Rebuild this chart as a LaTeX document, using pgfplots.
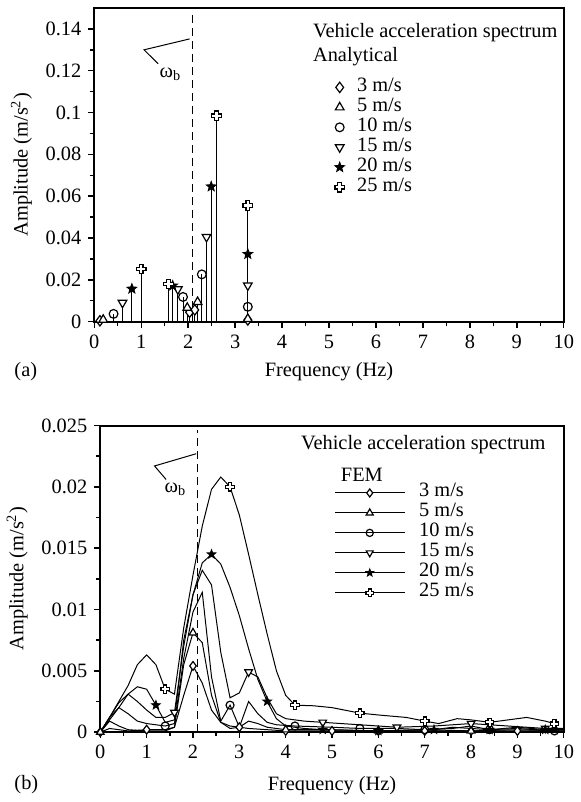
\documentclass[border=0pt]{standalone}
\usepackage{fontspec}
\setmainfont{Liberation Serif}
\usepackage{pgfplots}
\pgfplotsset{compat=1.18}
\usetikzlibrary{plotmarks}

\pgfdeclareplotmark{oplus}{%
 \pgfpathmoveto{\pgfqpoint{-0.38\pgfplotmarksize}{\pgfplotmarksize}}%
 \pgfpathlineto{\pgfqpoint{0.38\pgfplotmarksize}{\pgfplotmarksize}}%
 \pgfpathlineto{\pgfqpoint{0.38\pgfplotmarksize}{0.38\pgfplotmarksize}}%
 \pgfpathlineto{\pgfqpoint{\pgfplotmarksize}{0.38\pgfplotmarksize}}%
 \pgfpathlineto{\pgfqpoint{\pgfplotmarksize}{-0.38\pgfplotmarksize}}%
 \pgfpathlineto{\pgfqpoint{0.38\pgfplotmarksize}{-0.38\pgfplotmarksize}}%
 \pgfpathlineto{\pgfqpoint{0.38\pgfplotmarksize}{-\pgfplotmarksize}}%
 \pgfpathlineto{\pgfqpoint{-0.38\pgfplotmarksize}{-\pgfplotmarksize}}%
 \pgfpathlineto{\pgfqpoint{-0.38\pgfplotmarksize}{-0.38\pgfplotmarksize}}%
 \pgfpathlineto{\pgfqpoint{-\pgfplotmarksize}{-0.38\pgfplotmarksize}}%
 \pgfpathlineto{\pgfqpoint{-\pgfplotmarksize}{0.38\pgfplotmarksize}}%
 \pgfpathlineto{\pgfqpoint{-0.38\pgfplotmarksize}{0.38\pgfplotmarksize}}%
 \pgfpathclose
 \pgfusepathqfillstroke}

\pgfdeclareplotmark{fstar}{%
 \pgfpathmoveto{\pgfpointpolar{90}{\pgfplotmarksize}}%
 \pgfpathlineto{\pgfpointpolar{126}{0.42\pgfplotmarksize}}%
 \pgfpathlineto{\pgfpointpolar{162}{\pgfplotmarksize}}%
 \pgfpathlineto{\pgfpointpolar{198}{0.42\pgfplotmarksize}}%
 \pgfpathlineto{\pgfpointpolar{234}{\pgfplotmarksize}}%
 \pgfpathlineto{\pgfpointpolar{270}{0.42\pgfplotmarksize}}%
 \pgfpathlineto{\pgfpointpolar{306}{\pgfplotmarksize}}%
 \pgfpathlineto{\pgfpointpolar{342}{0.42\pgfplotmarksize}}%
 \pgfpathlineto{\pgfpointpolar{18}{\pgfplotmarksize}}%
 \pgfpathlineto{\pgfpointpolar{54}{0.42\pgfplotmarksize}}%
 \pgfpathclose
 \pgfusepathqfillstroke}

\newcommand{\fs}{\fontsize{10.2}{12.3}\selectfont}

\pgfplotsset{
 myax/.style={
  scale only axis, clip=false,
  axis line style={line width=1pt},
  every tick/.style={black, line width=0.7pt},
  tick align=outside, xtick pos=bottom, ytick pos=left,
  major tick length=3pt, minor tick length=2pt,
  xmin=0, xmax=10, xtick={0,1,...,10}, minor x tick num=1,
  scaled y ticks=false,
  /pgf/number format/assume math mode=true,
  tick label style={font=\fs},
  label style={font=\fs},
  xlabel={Frequency (Hz)},
  ylabel={Amplitude (m/s\textsuperscript{2})},
 },
 dia/.style={black, mark=diamond*, mark size=2.6pt, mark options={fill=white, solid, line width=0.6pt}},
 tri/.style={black, mark=triangle*, mark size=2.5pt, mark options={fill=white, solid, line width=0.6pt}},
 cir/.style={black, mark=o, mark size=2.2pt, mark options={fill=white, solid, line width=0.6pt}},
 dtr/.style={black, mark=triangle*, mark size=2.5pt, mark options={fill=white, solid, line width=0.6pt, rotate=180}},
 sta/.style={black, mark=fstar, mark size=2.6pt, mark options={fill=black, solid, line width=0.4pt}},
 crs/.style={black, mark=oplus, mark size=2.4pt, mark options={fill=white, solid, line width=0.6pt}},
}

\begin{document}
\begin{tikzpicture}[font=\fs]
\path (0pt,0pt) rectangle (287.5pt,-401pt);
\node[anchor=west, font=\fs] at (3pt,-186pt) {(a)};
\node[anchor=west, font=\fs] at (3pt,-393pt) {(b)};

% ---------------- (a) analytical ----------------
\begin{axis}[myax,
  at={(46.5pt,-161pt)}, anchor=south west,
  width=235pt, height=157pt,
  ymin=0, ymax=0.15,
  ytick={0,0.02,0.04,0.06,0.08,0.1,0.12,0.14},
  yticklabels={0,0.02,0.04,0.06,0.08,0.1,0.12,0.14},
  minor ytick={0.01,0.03,0.05,0.07,0.09,0.11,0.13},
  xlabel style={at={(axis description cs:0.5,0)}, anchor=center, yshift=-25pt},
  legend image code/.code={\path (0pt,0pt) (8pt,0pt); \draw[#1] plot coordinates {(4pt,0pt)};},
  legend style={draw=none, fill=none, at={(rel axis cs:0.504,0.780)}, anchor=north west,
    inner sep=0pt, row sep=0pt, column sep=4.5pt, font=\fs,
    nodes={inner sep=0pt, text height=7pt, text depth=3pt}},
  legend cell align=left,
]
\addplot[dia, ycomb, line width=0.5pt, forget plot] coordinates {(0.12,0.0004) (2.03,0.0045) (2.14,0.0056) (3.27,0.0008)};
\addplot[tri, ycomb, line width=0.5pt, forget plot] coordinates {(0.19,0.0009) (1.98,0.0066) (2.20,0.0094) (3.27,0.0013)};
\addplot[cir, ycomb, line width=0.5pt, forget plot] coordinates {(0.41,0.0037) (1.89,0.0118) (2.29,0.0226) (3.27,0.0071)};
\addplot[dtr, ycomb, line width=0.5pt, forget plot] coordinates {(0.60,0.0090) (1.78,0.0155) (2.39,0.0405) (3.27,0.0173)};
\addplot[sta, ycomb, line width=0.5pt, forget plot] coordinates {(0.80,0.0157) (1.67,0.0172) (2.49,0.0646) (3.27,0.0323)};
\addplot[crs, ycomb, line width=0.5pt, forget plot] coordinates {(1.00,0.0252) (1.58,0.0180) (2.60,0.0984) (3.27,0.0556)};
\addlegendimage{dia}\addlegendentry{3 m/s}
\addlegendimage{tri}\addlegendentry{5 m/s}
\addlegendimage{cir}\addlegendentry{10 m/s}
\addlegendimage{dtr}\addlegendentry{15 m/s}
\addlegendimage{sta}\addlegendentry{20 m/s}
\addlegendimage{crs}\addlegendentry{25 m/s}
\draw[black, line width=0.5pt, dash pattern=on 4pt off 2.5pt] (axis cs:2.1,0) -- (axis cs:2.1,0.147);
\draw[black, line width=0.5pt] (axis cs:2.03,0.1352) -- (axis cs:1.06,0.130) -- (axis cs:1.36,0.1233);
\node[font=\fs] at (axis cs:1.62,0.1185) {ω\textsubscript{b}};
\node[anchor=west, font=\fs] at (rel axis cs:0.451,0.920) {Vehicle acceleration spectrum};
\node[anchor=west, font=\fs] at (rel axis cs:0.451,0.844) {Analytical};
\end{axis}

% ---------------- (b) FEM ----------------
\begin{axis}[myax,
  at={(49.5pt,-366.5pt)}, anchor=south west,
  width=232pt, height=153.5pt,
  ymin=0, ymax=0.025,
  ytick={0,0.005,0.01,0.015,0.02,0.025},
  yticklabels={0,0.005,0.01,0.015,0.02,0.025},
  minor ytick={0.0025,0.0075,0.0125,0.0175,0.0225},
  xlabel style={at={(axis description cs:0.5,0)}, anchor=center, yshift=-27pt},
  legend image code/.code={\draw[#1, mark=none] (0pt,0pt) -- (35pt,0pt); \draw[#1] plot coordinates {(17.5pt,0pt)};},
  legend style={draw=none, fill=none, at={(rel axis cs:0.504,0.814)}, anchor=north west,
    inner sep=0pt, row sep=0pt, column sep=7pt, font=\fs,
    nodes={inner sep=0pt, text height=7pt, text depth=3pt}},
  legend cell align=left,
]
% lines
\addplot[black, line width=0.5pt, forget plot] coordinates {(0,0) (0.2,0.0003) (0.4,0.0002) (0.6,0.0001) (1.0,0.0002) (1.4,0.0002) (1.6,0.0004) (1.8,0.0030) (2.0,0.0054) (2.2,0.0040) (2.4,0.0018) (2.6,0.0008) (2.8,0.0005) (3.0,0.0004) (3.2,0.0003) (3.6,0.0002) (4,0.0001) (5,0.0001) (6,0.0001) (7,0.0001) (8,0.0001) (9,0.0001) (10,0.0001)};
\addplot[black, line width=0.5pt, forget plot] coordinates {(0,0) (0.2,0.0009) (0.4,0.0005) (0.6,0.0002) (1.0,0.0001) (1.4,0.0001) (1.6,0.0004) (1.8,0.0055) (2.0,0.0081) (2.2,0.0073) (2.4,0.0030) (2.6,0.0008) (2.8,0.0003) (3.0,0.0004) (3.2,0.0009) (3.4,0.0007) (3.6,0.0004) (4.0,0.0002) (5,0.0002) (6,0.0001) (7,0.0002) (8,0.0001) (9,0.0002) (10,0.0001)};
\addplot[black, line width=0.5pt, forget plot] coordinates {(0,0) (0.2,0.0012) (0.4,0.0020) (0.6,0.0015) (0.8,0.0009) (1.0,0.0007) (1.2,0.0006) (1.4,0.0005) (1.6,0.0007) (1.8,0.0060) (2.0,0.0098) (2.2,0.0114) (2.4,0.0045) (2.6,0.0009) (2.8,0.0022) (3.0,0.0004) (3.2,0.0025) (3.4,0.0015) (3.6,0.0008) (3.8,0.0006) (4.2,0.0005) (5.0,0.0004) (5.6,0.0003) (6.4,0.0003) (7.0,0.0002) (7.6,0.0003) (8.0,0.0005) (8.4,0.0002) (9.0,0.0003) (9.8,0.0001)};
\addplot[black, line width=0.5pt, forget plot] coordinates {(0,0) (0.2,0.0012) (0.4,0.0024) (0.6,0.0031) (0.8,0.0025) (1.0,0.0018) (1.2,0.0012) (1.4,0.0012) (1.6,0.0016) (1.8,0.0070) (2.0,0.0112) (2.2,0.0132) (2.4,0.0120) (2.6,0.0065) (2.8,0.0028) (3.0,0.0032) (3.2,0.0049) (3.4,0.0045) (3.6,0.0028) (3.8,0.0015) (4.0,0.0011) (4.4,0.0009) (4.8,0.0008) (5.6,0.0006) (6.4,0.0004) (7.2,0.0005) (8.0,0.0007) (8.8,0.0005) (9.6,0.0003) (10,0.0003)};
\addplot[black, line width=0.5pt, forget plot] coordinates {(0,0) (0.2,0.0010) (0.4,0.0020) (0.6,0.0031) (0.8,0.0037) (1.0,0.0035) (1.2,0.0022) (1.4,0.0008) (1.6,0.0010) (1.8,0.0075) (2.0,0.0112) (2.2,0.0138) (2.4,0.0145) (2.6,0.0137) (2.8,0.0118) (3.0,0.0095) (3.2,0.0068) (3.4,0.0043) (3.6,0.0025) (3.8,0.0011) (4.0,0.0005) (4.4,0.0003) (4.8,0.0002) (6.0,0.0001) (7.2,0.0002) (7.6,0.0004) (8.0,0.0003) (8.4,0.0002) (9.0,0.0004) (9.6,0.0002) (10,0.0002)};
\addplot[black, line width=0.5pt, forget plot] coordinates {(0,0) (0.2,0.0012) (0.4,0.0025) (0.6,0.0038) (0.8,0.0055) (1.0,0.0063) (1.2,0.0055) (1.4,0.0035) (1.6,0.0031) (1.8,0.0085) (2.0,0.0128) (2.2,0.0168) (2.4,0.0198) (2.6,0.0208) (2.8,0.0200) (3.0,0.0177) (3.2,0.0145) (3.4,0.0112) (3.6,0.0080) (3.8,0.0050) (4.0,0.0030) (4.2,0.0022) (4.6,0.00215) (5.0,0.0020) (5.6,0.00155) (6.0,0.0014) (6.6,0.0012) (7.0,0.0009) (7.3,0.0007) (7.7,0.0011) (8.0,0.0010) (8.4,0.0008) (8.8,0.0010) (9.2,0.0012) (9.6,0.0009) (9.8,0.0007)};
% markers
\addplot[dia, mark size=2.2pt, only marks, forget plot] coordinates {(0,0) (1,0.0002) (2,0.0054) (3,0.0004) (4,0.0001) (5,0.0001) (6,0.0001) (7,0.0001) (8,0.0001) (9,0.0001)};
\addplot[tri, mark size=2.2pt, only marks, forget plot] coordinates {(0,0) (2,0.0081) (4,0.0002) (6,0.0001) (8,0.0001)};
\addplot[cir, mark size=2.0pt, only marks, forget plot] coordinates {(1.4,0.0005) (2.8,0.0022) (4.2,0.0005) (5.6,0.0003) (7.0,0.0002) (8.4,0.0002) (9.8,0.0001)};
\addplot[dtr, mark size=2.2pt, only marks, forget plot] coordinates {(1.6,0.0016) (3.2,0.0049) (4.8,0.0008) (6.4,0.0004) (8.0,0.0007) (9.6,0.0003)};
\addplot[sta, mark size=2.3pt, only marks, forget plot] coordinates {(1.2,0.0022) (2.4,0.0145) (3.6,0.0025) (4.8,0.0002) (6.0,0.0001) (7.2,0.0002) (8.4,0.0002) (9.6,0.0002)};
\addplot[crs, mark size=2.1pt, only marks, forget plot] coordinates {(1.4,0.0035) (2.8,0.0200) (4.2,0.0022) (5.6,0.00155) (7.0,0.0009) (8.4,0.0008) (9.8,0.0007)};
\addlegendimage{dia, mark size=2.0pt, line width=0.5pt}\addlegendentry{3 m/s}
\addlegendimage{tri, mark size=2.0pt, line width=0.5pt}\addlegendentry{5 m/s}
\addlegendimage{cir, mark size=1.8pt, line width=0.5pt}\addlegendentry{10 m/s}
\addlegendimage{dtr, mark size=2.0pt, line width=0.5pt}\addlegendentry{15 m/s}
\addlegendimage{sta, mark size=2.0pt, line width=0.5pt}\addlegendentry{20 m/s}
\addlegendimage{crs, mark size=1.9pt, line width=0.5pt}\addlegendentry{25 m/s}
\draw[black, line width=0.5pt, dash pattern=on 4pt off 2.5pt] (axis cs:2.1,0) -- (axis cs:2.1,0.0246);
\draw[black, line width=0.5pt] (axis cs:2.07,0.0227) -- (axis cs:1.17,0.0217) -- (axis cs:1.42,0.0206);
\node[font=\fs] at (axis cs:1.62,0.0198) {ω\textsubscript{b}};
\node[anchor=west, font=\fs] at (rel axis cs:0.418,0.938) {Vehicle acceleration spectrum};
\node[anchor=west, font=\fs] at (rel axis cs:0.504,0.840) {FEM};
\end{axis}
\end{tikzpicture}
\end{document}
